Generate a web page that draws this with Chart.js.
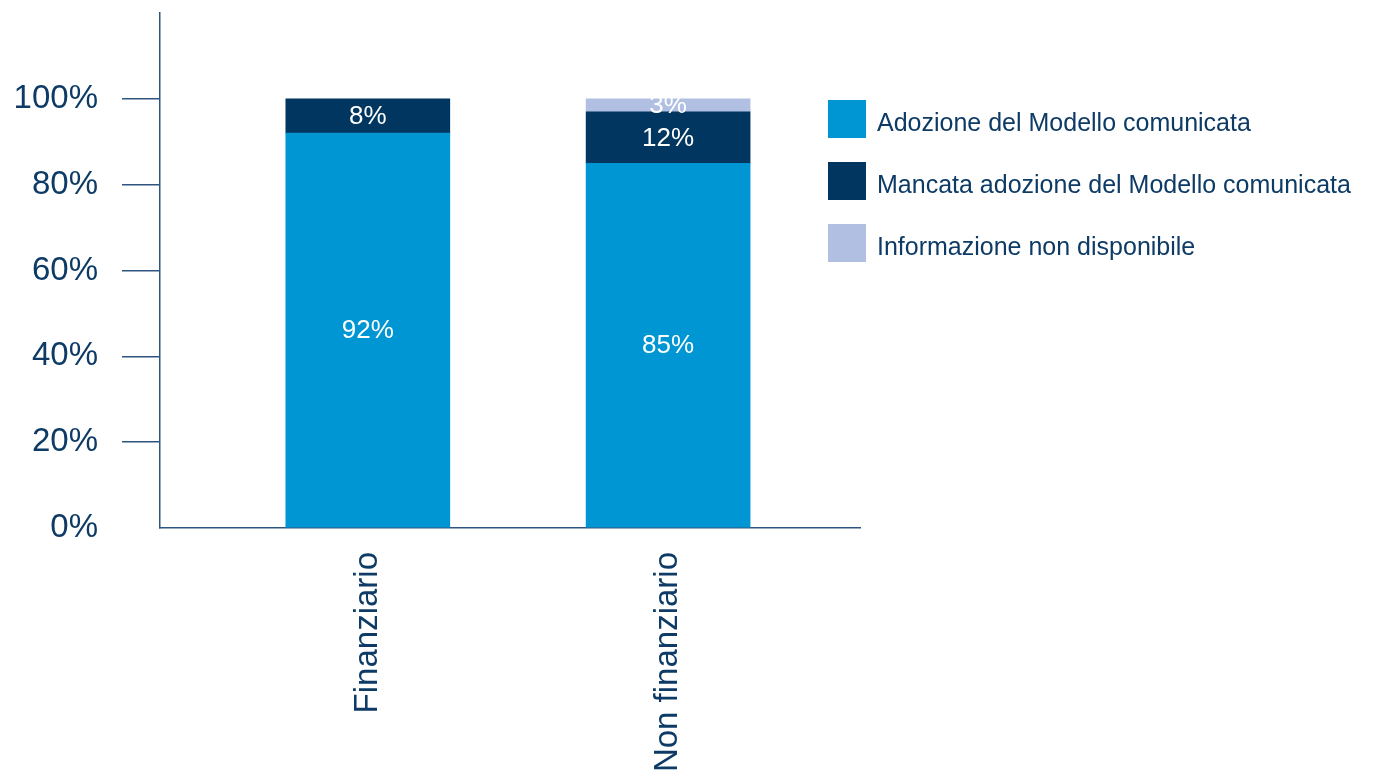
<!DOCTYPE html>
<html lang="it">
<head>
<meta charset="utf-8">
<title>Adozione del Modello</title>
<script src="https://cdn.jsdelivr.net/npm/chart.js@4.4.1/dist/chart.umd.min.js"></script>
<style>
    body { margin: 0; background: #fff; }
    #wrap { position: relative; width: 1380px; height: 780px; overflow: hidden; }
    #legend { position: absolute; left: 828px; top: 100px; font-family: "Liberation Sans", Arial, sans-serif; }
    .item { display: flex; align-items: center; height: 38px; margin-bottom: 24px; }
    .box { width: 38px; height: 38px; margin-right: 11px; flex: none; }
    .txt { font-size: 25px; color: #0d3b66; padding-top: 6px; white-space: nowrap; }
</style>
</head>
<body>
<div id="wrap">
    <canvas id="chart" width="1380" height="780"></canvas>
    <div id="legend"></div>
</div>
<script>
// Categories and percentages per segment
const categories = ['Finanziario', 'Non finanziario'];
const adozione = [92, 85];
const mancata = [8, 12];
const nonDisponibile = [null, 3];
const seriesNames = ['Adozione del Modello comunicata', 'Mancata adozione del Modello comunicata', 'Informazione non disponibile'];

const COLORS = {
    blue: '#0095d3',
    navy: '#00365f',
    lavender: '#b0bfe2',
    text: '#0d3b66',
    axis: '#2e5480'
};

const FONT = '"Liberation Sans", Arial, Helvetica, sans-serif';

const toPoints = values => values.map((v, i) => ({ x: i, y: v }));

// Writes the percentage in the middle of every segment
const segmentLabels = {
    id: 'segmentLabels',
    afterDatasetsDraw(chart) {
        const ctx = chart.ctx;
        ctx.save();
        ctx.font = '26px ' + FONT;
        ctx.fillStyle = '#ffffff';
        ctx.textAlign = 'center';
        ctx.textBaseline = 'middle';
        chart.data.datasets.forEach((ds, i) => {
            chart.getDatasetMeta(i).data.forEach((bar, j) => {
                const v = ds.data[j].y;
                if (v == null) return;
                const { x, y, base } = bar.getProps(['x', 'y', 'base'], true);
                ctx.fillText(v + '%', x, (y + base) / 2 + 1);
            });
        });
        ctx.restore();
    }
};

const chart = new Chart('chart', {
    type: 'bar',
    data: {
        datasets: [
            { label: seriesNames[0], data: toPoints(adozione), backgroundColor: COLORS.blue },
            { label: seriesNames[1], data: toPoints(mancata), backgroundColor: COLORS.navy },
            { label: seriesNames[2], data: toPoints(nonDisponibile), backgroundColor: COLORS.lavender }
        ]
    },
    options: {
        responsive: false,
        animation: false,
        barThickness: 164,
        layout: { padding: { top: 13, right: 520, left: 0, bottom: 0 } },
        plugins: {
            legend: { display: false },
            tooltip: { enabled: false }
        },
        scales: {
            x: {
                type: 'linear',
                stacked: true,
                offset: false,
                min: -0.692,
                max: 1.639,
                afterBuildTicks: scale => { scale.ticks = categories.map((c, i) => ({ value: i })); },
                afterFit: scale => { scale.height = 252; },
                grid: { display: false, drawTicks: false },
                border: { color: COLORS.axis, width: 1.5 },
                ticks: {
                    callback: v => categories[v],
                    minRotation: 90,
                    maxRotation: 90,
                    padding: 24,
                    color: COLORS.text,
                    font: { family: FONT, size: 33 }
                }
            },
            y: {
                stacked: true,
                min: 0,
                max: 120,
                afterFit: scale => {
                    scale.width = 160;
                    scale.paddingTop = 0;
                    scale.paddingBottom = 0;
                },
                grid: {
                    drawOnChartArea: false,
                    tickLength: 38,
                    lineWidth: 1.5,
                    color: c => (c.tick && c.tick.value === 0) ? 'rgba(0,0,0,0)' : COLORS.axis
                },
                border: { color: COLORS.axis, width: 1.5 },
                ticks: {
                    stepSize: 20,
                    callback: v => v === 120 ? null : v + '%',
                    padding: 24,
                    color: COLORS.text,
                    font: { family: FONT, size: 33 }
                }
            }
        }
    },
    plugins: [segmentLabels]
});

// Legend built from the datasets
const legend = document.getElementById('legend');
chart.data.datasets.forEach(ds => {
    const item = document.createElement('div');
    item.className = 'item';
    item.innerHTML = '<span class="box" style="background:' + ds.backgroundColor + '"></span><span class="txt">' + ds.label + '</span>';
    legend.appendChild(item);
});
</script>
</body>
</html>
